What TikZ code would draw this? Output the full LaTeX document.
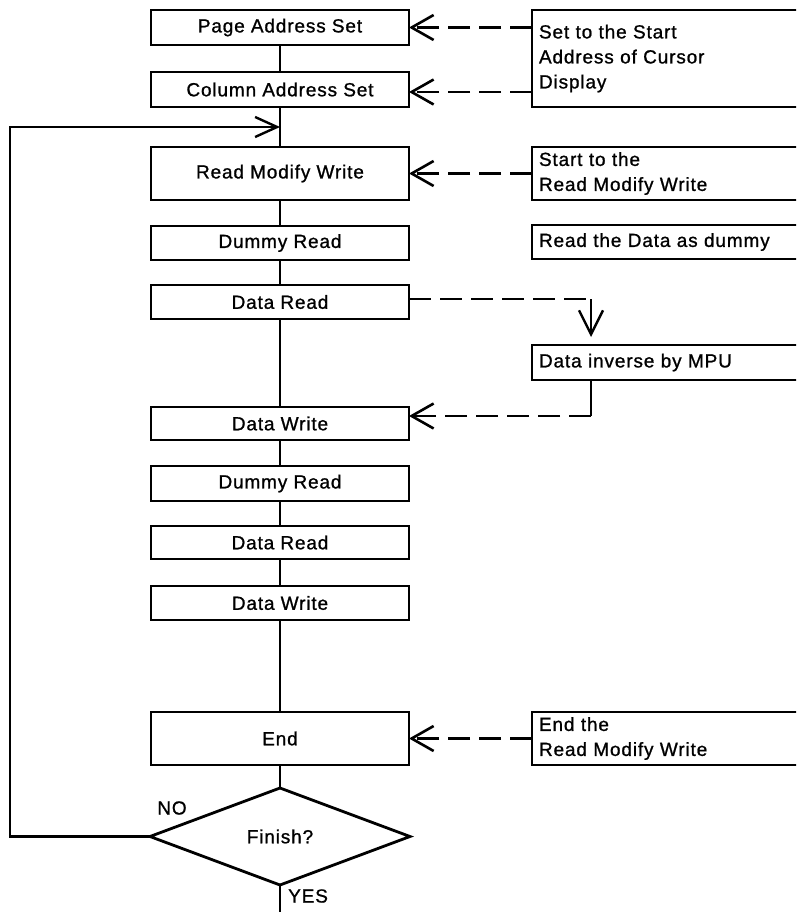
\documentclass[tikz,border=0pt]{standalone}
\usepackage{fontspec}
\setmainfont{Liberation Sans}[LetterSpace=4.5,FakeBold=1]
\usetikzlibrary{arrows.meta,shapes.geometric,calc}
\begin{document}
\begin{tikzpicture}[x=1pt,y=-1pt,
  txt/.style={font=\fontsize{19}{25}\selectfont},
  box/.style={txt,draw,line width=2.4pt,anchor=north,minimum width=258pt,inner sep=0pt,outer sep=0pt},
  desc/.style={txt,draw,line width=2.4pt,anchor=north west,minimum width=278pt,text width=264pt,inner xsep=7pt,inner ysep=0pt,outer sep=0pt,align=left},
  sl/.style={line width=2.4pt},
  dl/.style={line width=2.6pt,dash pattern=on 22pt off 9pt},
  tipL/.style={-{Straight Barb[length=22pt,width=25pt]}}
]
\useasboundingbox (0,0) rectangle (796,912);
\clip (0,0) rectangle (796,912);

% main column
\node[box,minimum height=35pt] (pas) at (280,10) {Page Address Set};
\node[box,minimum height=35pt] (cas) at (280,72) {Column Address Set};
\node[box,minimum height=53pt] (rmw) at (280,147) {Read Modify Write};
\node[box,minimum height=34pt] (dr1) at (280,226) {Dummy Read};
\node[box,minimum height=34pt] (dd1) at (280,285) {Data Read};
\node[box,minimum height=33pt] (dw1) at (280,407) {Data Write};
\node[box,minimum height=35pt] (dr2) at (280,466) {Dummy Read};
\node[box,minimum height=33pt] (dd2) at (280,526) {Data Read};
\node[box,minimum height=34pt] (dw2) at (280,586) {Data Write};
\node[box,minimum height=53pt] (endb) at (280,712) {End};
\node[txt,draw,diamond,line width=2.8pt,minimum width=260pt,minimum height=97pt,
      inner sep=0pt,outer sep=0pt,shape aspect=2.68] (fin) at (280,836.5) {Finish?};
\node[txt,inner sep=0pt] (no) at (172,808) {NO};
\node[txt,inner sep=0pt,anchor=west] (yes) at (288,896) {YES};

% description boxes
\node[desc,minimum height=97pt] (d1) at (532,10) {Set to the Start\\Address of Cursor\\Display};
\node[desc,minimum height=53pt] (d2) at (532,147) {Start to the\\Read Modify Write};
\node[desc,minimum height=34pt] (d3) at (532,225) {Read the Data as dummy};
\node[desc,minimum height=35pt] (d4) at (532,345) {Data inverse by MPU};
\node[desc,minimum height=53pt] (d5) at (532,712) {End the\\Read Modify Write};

% coordinates
\coordinate (lp) at (280,127);
\coordinate (lx) at (10,837);
\coordinate (bot) at (280,912);
\coordinate (kx) at (591,0);
\coordinate (k3) at (591,416);

% main flow
\draw[sl] (pas) -- (cas);
\draw[sl] (cas) -- (rmw);
\draw[sl] (rmw) -- (dr1);
\draw[sl] (dr1) -- (dd1);
\draw[sl] (dd1) -- (dw1);
\draw[sl] (dw1) -- (dr2);
\draw[sl] (dr2) -- (dd2);
\draw[sl] (dd2) -- (dw2);
\draw[sl] (dw2) -- (endb);
\draw[sl] (endb) -- (fin);
\draw[sl] (fin.south) -- (bot);
\draw[sl,-{Straight Barb[length=22pt,width=20pt]}] (fin.west) -- (fin.west -| lx) |- (lp);

% dashed annotations
\draw[dl,tipL] (pas.east -| d1.west) -- (pas.east);
\draw[dl,tipL] ([yshift=-2.5pt]cas.east -| d1.west) -- ([yshift=-2.5pt]cas.east);
\draw[dl,tipL] (rmw.east -| d2.west) -- (rmw.east);
\draw[dl,tipL] (endb.east -| d5.west) -- (endb.east);
\draw[dl] ([yshift=3pt]dd1.east) -- ([yshift=3pt]dd1.east -| kx) coordinate (k1);
\draw[sl,-{Straight Barb[length=24pt,width=24pt]}] (k1) -- ($(d4.north -| kx)+(0,-8)$);
\draw[sl] (d4.south -| kx) -- (k3);
\draw[dl,tipL] (k3) -- (k3 -| dw1.east);
\end{tikzpicture}
\end{document}
